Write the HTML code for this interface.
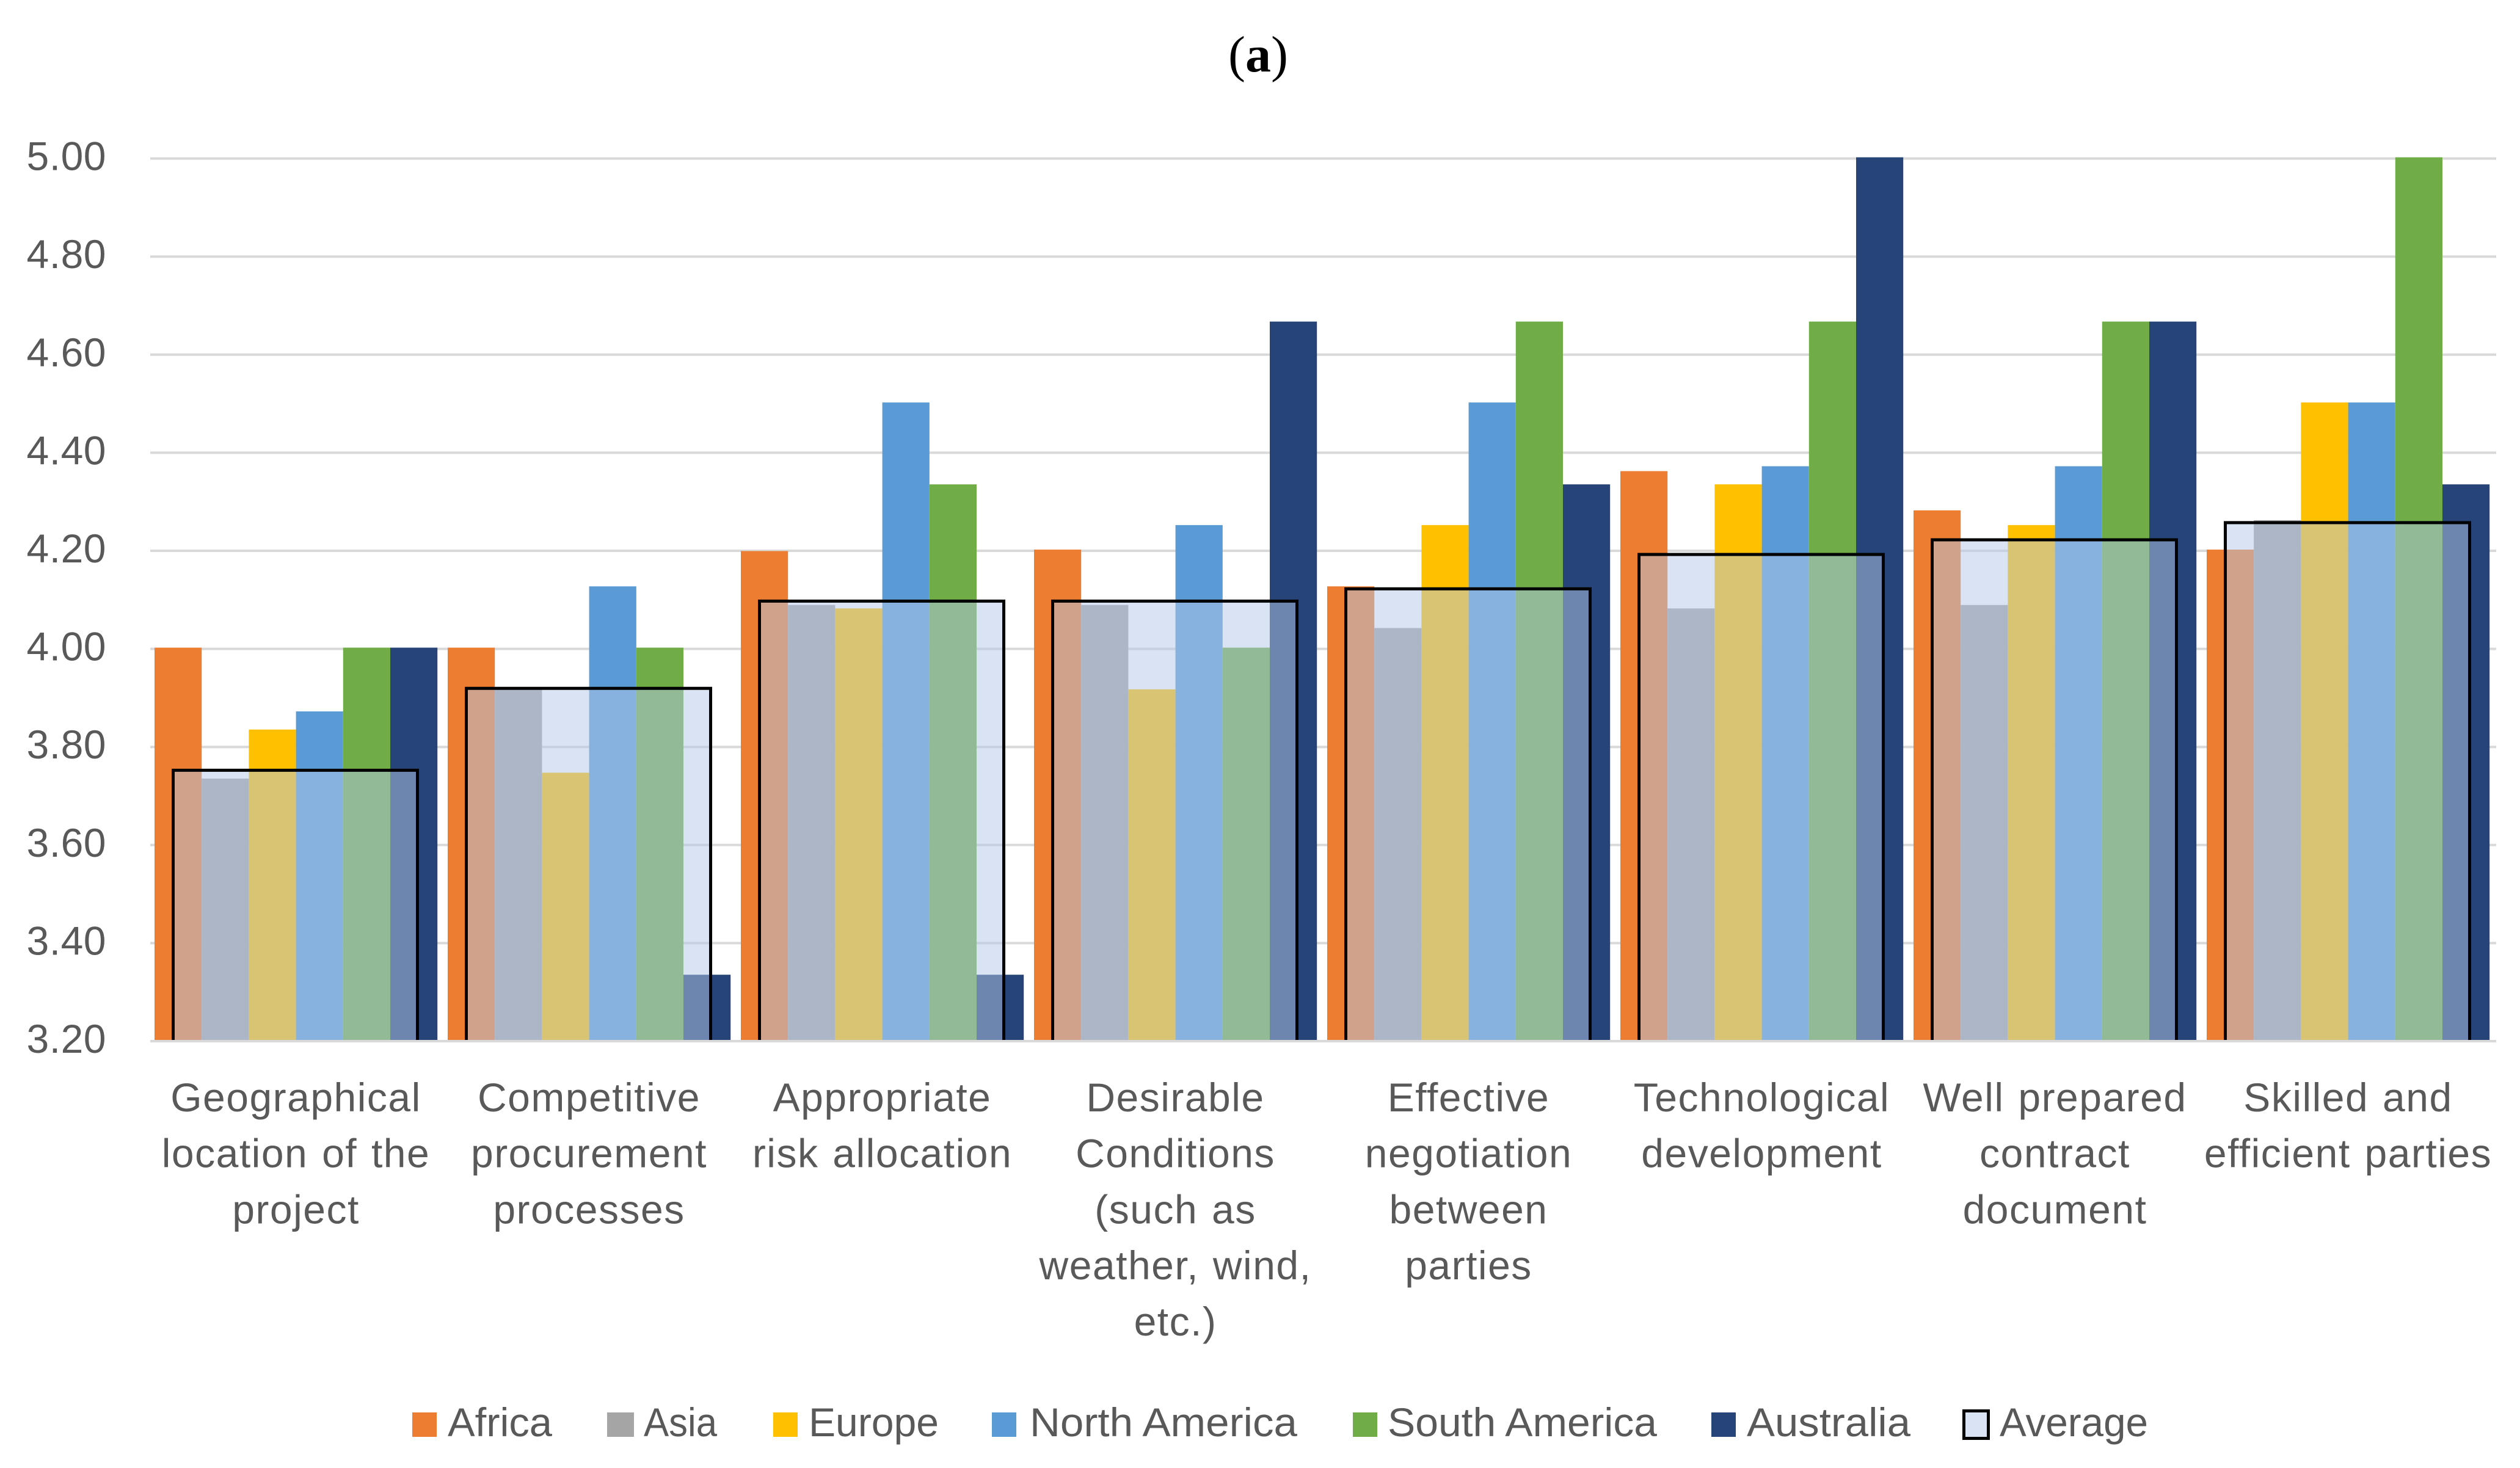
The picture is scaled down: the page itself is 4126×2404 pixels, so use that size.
<!DOCTYPE html>
<html lang="en">
<head>
<meta charset="utf-8">
<title>Chart (a)</title>
<style>
html,body{margin:0;padding:0;background:#fff;}
body{width:4126px;height:2404px;overflow:hidden;}
svg{display:block;}
text{font-family:"Liberation Sans",sans-serif;fill:#595959;}
</style>
</head>
<body>
<svg id="chart" xmlns="http://www.w3.org/2000/svg" width="4126" height="2404" viewBox="0 0 4126 2404">
  <rect x="0" y="0" width="4126" height="2404" fill="#ffffff"/>
  <text x="2060" y="117" text-anchor="middle" font-size="84" style="font-family:'Liberation Serif',serif;fill:#000">(<tspan font-weight="bold">a</tspan>)</text>
  <g id="grid"></g>
  <g id="bars"></g>
  <g id="avg"></g>
  <g id="axis"></g>
  <g id="yticks"></g>
  <g id="xlabels"></g>
  <g font-size="66">
    <g><rect x="675" y="2313" width="40" height="40" fill="#ED7D31"/><text x="733" y="2352" textLength="171" lengthAdjust="spacingAndGlyphs">Africa</text></g>
    <g><rect x="994" y="2313" width="44" height="40" fill="#A5A5A5"/><text x="1054" y="2352" textLength="120" lengthAdjust="spacingAndGlyphs">Asia</text></g>
    <g><rect x="1266" y="2313" width="40" height="40" fill="#FFC000"/><text x="1324" y="2352" textLength="213" lengthAdjust="spacingAndGlyphs">Europe</text></g>
    <g><rect x="1624" y="2313" width="40" height="40" fill="#5B9BD5"/><text x="1686" y="2352" textLength="438" lengthAdjust="spacingAndGlyphs">North America</text></g>
    <g><rect x="2215" y="2313" width="40" height="40" fill="#70AD47"/><text x="2272" y="2352" textLength="441" lengthAdjust="spacingAndGlyphs">South America</text></g>
    <g><rect x="2802" y="2313" width="40" height="40" fill="#264478"/><text x="2860" y="2352" textLength="268" lengthAdjust="spacingAndGlyphs">Australia</text></g>
    <g><rect x="3215.5" y="2310.5" width="40" height="45" fill="#DAE3F3" stroke="#000" stroke-width="5"/><text x="3274" y="2352" textLength="243" lengthAdjust="spacingAndGlyphs">Average</text></g>
  </g>
</svg>
<script>
const categories = [
  ["Geographical","location of the","project"],
  ["Competitive","procurement","processes"],
  ["Appropriate","risk allocation"],
  ["Desirable","Conditions","(such as","weather, wind,","etc.)"],
  ["Effective","negotiation","between","parties"],
  ["Technological","development"],
  ["Well prepared","contract","document"],
  ["Skilled and","efficient parties"]
];
const africa       = [4.00, 4.00, 4.197, 4.20, 4.125, 4.36, 4.28, 4.20];
const asia         = [3.733, 3.917, 4.087, 4.087, 4.04, 4.08, 4.087, 4.26];
const europe       = [3.833, 3.745, 4.08, 3.915, 4.25, 4.333, 4.25, 4.50];
const northAmerica = [3.87, 4.125, 4.50, 4.25, 4.50, 4.37, 4.37, 4.50];
const southAmerica = [4.00, 4.00, 4.333, 4.00, 4.665, 4.665, 4.665, 5.00];
const australia    = [4.00, 3.333, 3.333, 4.665, 4.333, 5.00, 4.665, 4.333];
const average      = [3.75, 3.917, 4.095, 4.095, 4.12, 4.19, 4.22, 4.255];
const seriesNames  = ["africa","asia","europe","north-america","south-america","australia"];
const seriesValues = [africa, asia, europe, northAmerica, southAmerica, australia];
const seriesColors = ["#ED7D31","#A5A5A5","#FFC000","#5B9BD5","#70AD47","#264478"];
const tickValues   = [3.2,3.4,3.6,3.8,4.0,4.2,4.4,4.6,4.8,5.0];
const tickLabels   = ["3.20","3.40","3.60","3.80","4.00","4.20","4.40","4.60","4.80","5.00"];

const NS = "http://www.w3.org/2000/svg";
const plotLeft = 246, plotRight = 4086, catW = (plotRight - plotLeft) / categories.length;
const catGap = 7, barW = 77.2;
const yBase = 1703, yMin = 3.2, yMax = 5, yScale = 803;
function yPos(v){ return yBase - (v - yMin) * yScale; }
function catStart(i){ return plotLeft + i * catW; }
function catCenter(i){ return catStart(i) + catW / 2; }
function barX(i, s){ return catStart(i) + catGap + s * barW; }
function mk(tag, attrs, parentId){
  const el = document.createElementNS(NS, tag);
  for (const k in attrs) el.setAttribute(k, attrs[k]);
  document.getElementById(parentId).appendChild(el);
  return el;
}

tickValues.forEach(function(t, i){
  if (i === 0) return;
  const line = mk("line", {x1: plotLeft, x2: plotRight + 1, y1: yPos(t) + 2, y2: yPos(t) + 2, stroke: "#D9D9D9", "stroke-width": 4}, "grid");
  
  
});

tickValues.forEach(function(t, i){
  const label = mk("text", {x: 174, y: yPos(t) + 21, "text-anchor": "end", "font-size": 66, "letter-spacing": 0.5}, "yticks");
  label.textContent = tickLabels[i];
  
  
});

seriesValues.forEach(function(vals, s){
  vals.forEach(function(v, i){
    const bar = mk("rect", {x: barX(i, s), y: yPos(v), width: barW, height: yBase - yPos(v), fill: seriesColors[s]}, "bars");
    
    
    bar.setAttribute('data-series', seriesNames[s]);
  });
});

average.forEach(function(v, i){
  const left = catCenter(i) - 2.5 - 200, right = catCenter(i) - 2.5 + 200, top = yPos(v);
  const fill = mk("rect", {x: left, y: top, width: right - left, height: yBase - top, fill: "#B4C7E7", "fill-opacity": 0.5}, "avg");
  
  
  const outline = mk("path", {d: "M" + left + "," + yBase + "V" + top + "H" + right + "V" + yBase, fill: "none", stroke: "#000", "stroke-width": 5}, "avg");
  
  
});

const axisLine = mk("line", {x1: plotLeft, x2: plotRight + 1, y1: yBase + 2, y2: yBase + 2, stroke: "#D9D9D9", "stroke-width": 4}, "axis");



categories.forEach(function(lines, i){
  lines.forEach(function(txt, l){
    const label = mk("text", {x: catCenter(i) - 1.5, y: 1820 + l * 91.7, "text-anchor": "middle", "font-size": 66, "letter-spacing": 1.5, "word-spacing": 3}, "xlabels");
    label.textContent = txt;
    
    
  });
});
</script>
</body>
</html>
